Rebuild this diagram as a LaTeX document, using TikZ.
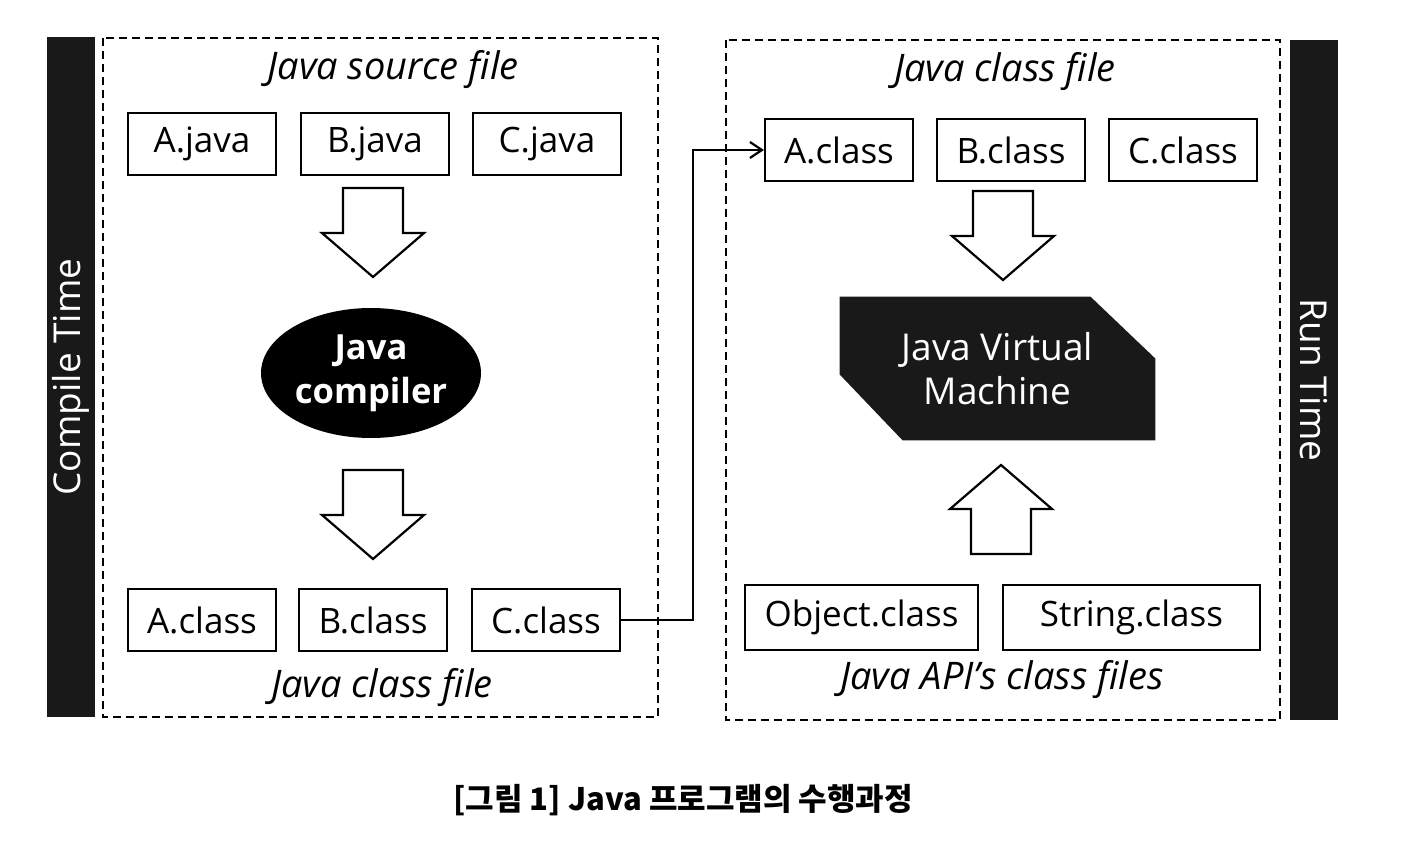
\documentclass[tikz,border=0pt]{standalone}
\usepackage{fontspec}
\setmainfont{Open Sans}
\newfontfamily\krfont{Noto Sans CJK KR}
\usepackage{tikz}
\usetikzlibrary{shapes.geometric,arrows.meta,calc,backgrounds}

\tikzset{
  filebox/.style={draw, line width=1.1pt, minimum width=74pt, minimum height=31pt, inner sep=0pt, font=\fontsize{17.5}{20}\selectfont},
  apibox/.style={filebox, minimum height=32.5pt},
  title/.style={font=\fontsize{19}{22}\selectfont\itshape},
  sidebar/.style={fill=black!90, text=white, minimum width=340pt, minimum height=24pt, inner sep=0pt, font=\fontsize{18.5}{21}\selectfont},
  area/.style={dashed, line width=1pt, dash pattern=on 4pt off 2.5pt},
  fatdown/.pic={\draw[line width=1.1pt, fill=white] (-30,-44) -- (30,-44) -- (30,1) -- (51,1) -- (0,45) -- (-51,1) -- (-30,1) -- cycle;}
}

\begin{document}
\begin{tikzpicture}[x=0.5pt,y=-0.5pt]
\useasboundingbox (0,0) rectangle (1424,861);

% side bars
\node[sidebar, rotate=90] (ctime) at (71,377) {Compile Time};
\node[sidebar, rotate=-90] (rtime) at (1314,380) {Run Time};

% dashed areas
\draw[area] (103,38) rectangle (658,717);
\draw[area] (726,40) rectangle (1280,720);

% compile side
\node[title] (srcT) at (393,70) {Java source file};
\node[filebox] (ajava) at (202,144) {A.java};
\node[filebox] (bjava) at (375,144) {B.java};
\node[filebox] (cjava) at (547,144) {C.java};
\pic at (373,232) {fatdown};
\node[ellipse, fill=black, text=white, minimum width=110pt, minimum height=65pt, inner sep=0pt, align=center, font=\fontsize{17.3}{22}\selectfont\bfseries] (compiler) at (371,373) {Java\\compiler};
\pic at (373,514) {fatdown};
\node[filebox] (aclassL) at (202,620) {A.class};
\node[filebox] (bclassL) at (373,620) {B.class};
\node[filebox] (cclassL) at (546,620) {C.class};
\node[title] (clsL) at (382,688) {Java class file};

% run side
\node[title] (clsR) at (1005,72) {Java class file};
\node[filebox] (aclassR) at (839,150) {A.class};
\node[filebox] (bclassR) at (1011,150) {B.class};
\node[filebox] (cclassR) at (1183,150) {C.class};
\pic at (1003,235) {fatdown};
\node[minimum width=157.5pt, minimum height=71.5pt, inner sep=0pt, align=center, text=white, font=\fontsize{18.5}{22}\selectfont] (jvm) at (997.5,368.5) {Java Virtual\\Machine};
\begin{scope}[on background layer]
\fill[black!90] (jvm.north west) -- ($(jvm.north east)+(-65,0)$) -- ($(jvm.north east)+(0,62)$) -- (jvm.south east) -- ($(jvm.south west)+(63,0)$) -- ($(jvm.south west)+(0,-66)$) -- cycle;
\end{scope}
\pic[rotate=180] at (1001,510) {fatdown};
\node[apibox, minimum width=116.5pt] (obj) at (861.5,617.5) {Object.class};
\node[apibox, minimum width=128.5pt] (str) at (1131.5,617.5) {String.class};
\node[title] (apiT) at (1002,680) {Java API's class files};

% connector
\draw[line width=1.1pt, -{Straight Barb[length=6pt, width=8pt]}] (cclassL.east) -- ++(72,0) |- (aclassR.west);

% caption
\node[font=\krfont\bfseries\fontsize{15.5}{18}\selectfont] (caption) at (683,800) {[그림 1] Java 프로그램의 수행과정};
\end{tikzpicture}
\end{document}
